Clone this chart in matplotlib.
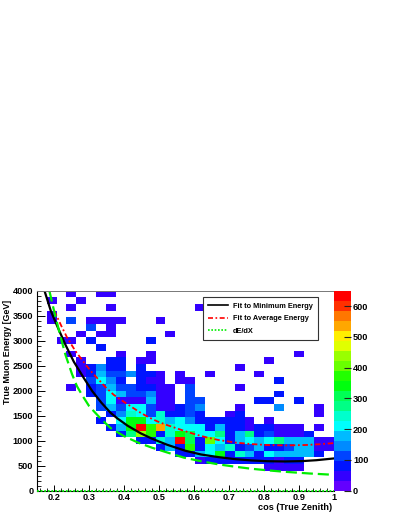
import colorsys
import numpy as np
import matplotlib
matplotlib.use("Agg")
import matplotlib.pyplot as plt
from matplotlib.colors import ListedColormap, BoundaryNorm
from matplotlib.lines import Line2D
from matplotlib.ticker import MultipleLocator, FixedLocator, FuncFormatter

plt.rcParams['font.family'] = ['Liberation Sans', 'DejaVu Sans']
plt.rcParams['font.weight'] = 'bold'

# 2D histogram binning (cos zenith x true muon energy)
cos_edges = np.linspace(0.15, 1.0, 31)
energy_edges = np.linspace(0.0, 4000.0, 31)

# bin contents, top row (3867-4000 GeV) first, bottom row (0-133 GeV) last
counts = [
    [0,0,0,49,0,0,49,49,0,0, 0,0,0,0,0,0,0,0,0,0, 0,0,0,0,0,0,0,0,0,0],
    [0,49,0,0,49,0,0,0,0,0, 0,0,0,0,0,0,0,0,0,0, 0,0,0,0,0,0,0,0,0,0],
    [0,0,0,49,0,0,0,49,0,0, 0,0,0,0,0,0,49,0,0,0, 0,0,0,0,0,0,0,0,0,0],
    [0,49,0,0,0,0,0,0,0,0, 0,0,0,0,0,0,0,0,0,0, 0,0,0,0,0,0,0,0,0,0],
    [0,49,0,114,0,49,49,49,49,0, 0,0,49,0,0,0,0,0,0,0, 0,0,0,0,0,0,0,0,0,0],
    [0,0,0,0,0,114,0,49,0,0, 0,0,0,0,0,0,0,0,0,0, 0,0,0,0,0,0,0,0,0,0],
    [0,0,0,0,49,0,49,49,0,0, 0,0,0,49,0,0,0,0,0,0, 0,0,0,49,0,0,0,0,0,0],
    [0,0,49,49,0,81,0,0,0,0, 0,81,0,0,0,0,0,0,0,0, 0,0,0,0,0,0,0,0,0,0],
    [0,0,0,0,0,0,81,0,0,0, 0,0,0,0,0,0,0,0,0,0, 0,0,0,0,0,0,0,0,0,0],
    [0,0,0,49,0,0,0,0,49,0, 0,49,0,0,0,0,0,0,0,0, 0,0,0,0,0,0,49,0,0,0],
    [0,0,0,0,49,0,0,81,81,0, 49,49,0,0,0,0,0,0,0,0, 0,0,0,49,0,0,0,0,0,0],
    [0,0,0,0,49,81,146,81,81,0, 81,0,0,0,0,0,0,0,0,0, 49,0,0,0,0,0,0,0,0,0],
    [0,0,0,0,49,81,179,114,114,146, 81,81,49,0,49,0,0,49,0,0, 0,0,49,0,0,0,0,0,0,0],
    [0,0,0,0,0,114,211,146,81,0, 81,49,49,0,49,49,0,0,0,0, 0,0,0,0,81,0,0,0,0,0],
    [0,0,0,49,0,81,114,179,114,114, 81,81,49,49,0,114,0,0,0,0, 49,0,0,0,0,0,0,0,0,0],
    [0,0,0,0,0,81,114,211,179,114, 114,146,49,49,0,114,0,0,0,0, 0,0,0,0,81,0,0,0,0,0],
    [0,0,0,0,0,0,114,211,49,49, 49,179,49,49,0,114,114,0,0,0, 0,0,81,81,0,0,81,0,0,0],
    [0,0,0,0,0,0,114,179,114,211, 211,114,49,49,81,114,146,0,0,0, 49,0,0,0,146,0,0,0,49,0],
    [0,0,0,0,0,0,0,81,146,244, 211,114,244,81,81,114,81,0,0,49, 81,0,0,0,0,0,0,0,49,0],
    [0,0,0,0,0,0,81,0,211,341, 341,211,244,179,211,146,81,81,81,81, 81,49,0,49,0,0,0,0,0,0],
    [0,0,0,0,0,0,0,81,179,341, 634,374,536,244,211,211,211,81,179,81, 81,49,81,81,49,49,49,0,49,0],
    [0,0,0,0,0,0,0,0,81,276, 439,374,81,244,341,309,211,211,276,81, 179,276,81,114,49,49,49,81,0,0],
    [0,0,0,0,0,0,0,0,0,0, 81,81,244,179,634,309,81,406,211,81, 179,211,179,211,276,179,179,179,49,49],
    [0,0,0,0,0,0,0,0,0,0, 0,0,81,179,81,374,81,211,179,244, 81,114,179,81,81,114,179,179,49,49],
    [0,0,0,0,0,0,0,0,0,0, 0,0,0,0,81,81,179,211,341,81, 244,179,81,211,179,179,179,179,81,0],
    [0,0,0,0,0,0,0,0,0,0, 0,0,0,0,0,0,49,81,81,81, 81,81,81,81,49,81,81,0,0,0],
    [0,0,0,0,0,0,0,0,0,0, 0,0,0,0,0,0,0,0,0,0, 0,0,0,49,49,49,49,0,0,0],
    [0,0,0,0,0,0,0,0,0,0, 0,0,0,0,0,0,0,0,0,0, 0,0,0,0,0,0,0,0,0,0],
    [0,0,0,0,0,0,0,0,0,0, 0,0,0,0,0,0,0,0,0,0, 0,0,0,0,0,0,0,0,0,0],
    [0,0,0,0,0,0,0,0,0,0, 0,0,0,0,0,0,0,0,0,0, 0,0,0,0,0,0,0,0,0,0],
]

# fit to minimum energy
min_cos = [0.172, 0.19, 0.208, 0.232, 0.256, 0.285, 0.309, 0.335, 0.361, 0.38, 0.41,
           0.447, 0.48, 0.523, 0.575, 0.62, 0.67, 0.72, 0.766, 0.81, 0.861, 0.909, 0.95, 1.0]
min_energy = [4000, 3600, 3300, 2920, 2580, 2250, 1990, 1760, 1560, 1450, 1300,
              1150, 1040, 920, 800, 725, 672, 630, 605, 590, 585, 592, 610, 645]

# fit to average energy
avg_cos = [0.2, 0.22, 0.237, 0.26, 0.29, 0.31, 0.33, 0.347, 0.37, 0.399, 0.427, 0.447, 0.47,
           0.494, 0.52, 0.542, 0.575, 0.61, 0.64, 0.67, 0.72, 0.766, 0.81, 0.861, 0.92, 0.96, 1.0]
avg_energy = [3600, 3300, 3060, 2800, 2520, 2350, 2200, 2070, 1920, 1780, 1650, 1560, 1470,
              1390, 1320, 1268, 1190, 1115, 1060, 1015, 962, 932, 914, 906, 914, 930, 952]

# dE/dX expectation
dedx_cos = [0.186, 0.2, 0.218, 0.232, 0.251, 0.265, 0.28, 0.3, 0.332, 0.361, 0.4, 0.44,
            0.48, 0.52, 0.571, 0.62, 0.67, 0.72, 0.766, 0.82, 0.861, 0.93, 1.0]
dedx_energy = [4000, 3580, 3080, 2720, 2330, 2090, 1910, 1690, 1450, 1255, 1090, 962,
               860, 772, 662, 590, 527, 478, 438, 402, 378, 345, 318]

z_levels = np.linspace(0, 650, 21)
cbar_ticks = [0, 100, 200, 300, 400, 500, 600]

# ROOT "pretty palette" (violet -> red), 20 contour levels
pal = []
for k in range(20):
    idx = int((k + 0.99) * 50 / 20)
    hue = 280.0 - (idx + 1) * 280.0 / 50
    pal.append(colorsys.hls_to_rgb(hue / 360.0, 0.5, 1.0))
cmap = ListedColormap(pal)
norm = BoundaryNorm(z_levels, cmap.N)

fig = plt.figure(figsize=(3.99, 5.16), dpi=100)
ax = fig.add_axes([0.0922, 0.049, 0.744, 0.3876])

h = np.ma.masked_equal(np.array(counts)[::-1], 0)
mesh = ax.pcolormesh(cos_edges, energy_edges, h, cmap=cmap, norm=norm)

ax.plot(min_cos, min_energy, color='black', lw=1.6)
ax.plot(avg_cos, avg_energy, color='red', lw=1.3, dashes=(3, 1.5, 1, 1.5))
ax.plot(dedx_cos, dedx_energy, color='#00ee00', lw=1.6, dashes=(5, 2.2))
ax.axhline(0, color='#00ee00', lw=1.3, ls=(0, (1, 1)), clip_on=False, zorder=5)

ax.set_xlim(0.15, 1.0)
ax.set_ylim(0, 4000)
ax.xaxis.set_major_locator(FixedLocator([0.2, 0.3, 0.4, 0.5, 0.6, 0.7, 0.8, 0.9, 1.0]))
ax.xaxis.set_major_formatter(FuncFormatter(lambda v, p: f"{v:g}"))
ax.xaxis.set_minor_locator(MultipleLocator(0.02))
ax.yaxis.set_major_locator(MultipleLocator(500))
ax.yaxis.set_minor_locator(MultipleLocator(100))
ax.tick_params(axis='x', which='major', direction='in', length=4.5, width=0.7, labelsize=6.6, pad=2)
ax.tick_params(axis='x', which='minor', direction='in', length=2.2, width=0.6)
ax.tick_params(axis='y', which='major', direction='in', length=5.5, width=0.7, labelsize=6.6, pad=2.5)
ax.tick_params(axis='y', which='minor', direction='in', length=2.7, width=0.6)
for s in ['top', 'right']:
    ax.spines[s].set_color('#777777')
    ax.spines[s].set_linewidth(0.7)
for s in ['left', 'bottom']:
    ax.spines[s].set_linewidth(0.8)

handles = [
    Line2D([], [], color='black', lw=1.2),
    Line2D([], [], color='red', lw=1.2, dashes=(3, 1.5, 1, 1.5)),
    Line2D([], [], color='#00ee00', lw=1.2, ls=(0, (1, 1))),
]
labels = ['Fit to Minimum Energy', 'Fit to Average Energy', 'dE/dX']
leg = ax.legend(handles, labels, loc='upper left', bbox_to_anchor=(0.559, 0.967),
                fontsize=5.3, frameon=True, fancybox=False, framealpha=1,
                handlelength=2.8, handletextpad=0.6, labelspacing=0.75,
                borderpad=0.7, borderaxespad=0)
leg.get_frame().set_edgecolor('#333333')
leg.get_frame().set_linewidth(0.8)

fig.text(0.0188, 0.4186, 'True Muon Energy [GeV]', rotation=90, ha='center', va='top',
         fontsize=6.4)
fig.text(0.8313, 0.0161, 'cos (True Zenith)', ha='right', va='center', fontsize=6.6)

cax = fig.add_axes([334.2 / 399, 0.049, 16.8 / 399, 0.3876])
cb = fig.colorbar(mesh, cax=cax, ticks=cbar_ticks)
cb.outline.set_visible(False)
cax.tick_params(direction='in', length=5, width=0.8, color='#222222', labelsize=6.6, pad=1.5)
cax.minorticks_off()

fig.savefig('out.png', dpi=100)
